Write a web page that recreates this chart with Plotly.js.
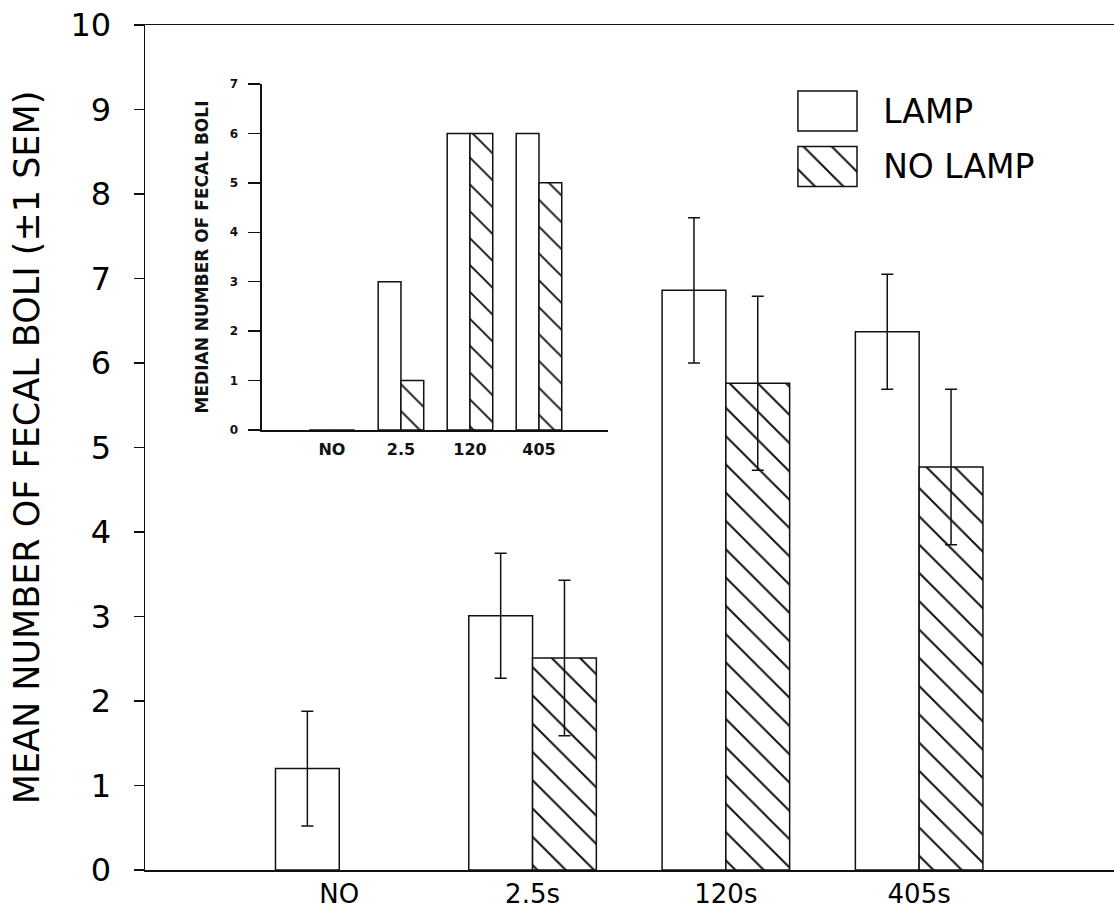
<!DOCTYPE html>
<html>
<head>
<meta charset="utf-8">
<script src="https://cdn.plot.ly/plotly-3.0.1.min.js"></script>
<style>html,body{margin:0;padding:0;background:#fff;}#chart{width:1114px;height:909px;}</style>
</head>
<body>
<div id="chart"></div>
<script>
// ---- data ----
const mainCategories = ['NO', '2.5s', '120s', '405s'];
const insetCategories = ['NO', '2.5', '120', '405'];
const seriesNames = ['LAMP', 'NO LAMP'];
const lampMean = [1.20, 3.01, 6.86, 6.37];
const lampSEM = [0.68, 0.74, 0.86, 0.68];
const noLampMean = [null, 2.51, 5.76, 4.77];
const noLampSEM = [null, 0.92, 1.03, 0.92];
const lampMedian = [0, 3, 6, 6];
const noLampMedian = [0, 1, 6, 5];
const legendSwatch = [1, 1];

const INK = '#111';
const FONT = 'DejaVu Sans, Liberation Sans, sans-serif';
const hatch = {shape: '\\', fgcolor: INK, bgcolor: '#fff', size: 20, solidity: 0.1};
const outline = {color: INK, width: 1.5};
const errStyle = {type: 'data', visible: true, color: INK, thickness: 1.5, width: 6};

const traces = [
  {type: 'bar', name: seriesNames[0], x: mainCategories, y: lampMean,
   marker: {color: '#fff', line: outline},
   error_y: Object.assign({array: lampSEM}, errStyle), hoverinfo: 'skip'},
  {type: 'bar', name: seriesNames[1], x: mainCategories, y: noLampMean,
   marker: {color: '#fff', line: outline, pattern: hatch},
   error_y: Object.assign({array: noLampSEM}, errStyle), hoverinfo: 'skip'},
  {type: 'bar', name: seriesNames[0], x: insetCategories, y: lampMedian, xaxis: 'x2', yaxis: 'y2',
   marker: {color: '#fff', line: outline}, hoverinfo: 'skip'},
  {type: 'bar', name: seriesNames[1], x: insetCategories, y: noLampMedian, xaxis: 'x2', yaxis: 'y2',
   marker: {color: '#fff', line: outline, pattern: Object.assign({}, hatch, {size: 19})}, hoverinfo: 'skip'},
  // legend swatches
  {type: 'bar', orientation: 'h', y: seriesNames, x: legendSwatch, xaxis: 'x3', yaxis: 'y3', width: 0.72,
   marker: {color: '#fff', line: outline,
     pattern: {shape: ['', '\\'], fgcolor: INK, bgcolor: '#fff', size: 20, solidity: 0.1}},
   hoverinfo: 'skip'}
];

const layout = {
  width: 1114, height: 909,
  margin: {l: 145, r: 0, t: 25, b: 39},
  paper_bgcolor: '#fff', plot_bgcolor: '#fff',
  showlegend: false,
  barmode: 'group', bargap: 0.34, bargroupgap: 0,
  font: {family: FONT, color: INK},
  xaxis: {
    domain: [0, 1], anchor: 'y', type: 'category', range: [-1.005, 4.008],
    showline: true, linecolor: INK, linewidth: 1.5, mirror: true,
    ticks: '', showgrid: false, zeroline: false,
    tickfont: {family: FONT, size: 26, color: '#000'}, ticklabelstandoff: 0
  },
  yaxis: {
    domain: [0, 1], anchor: 'x', range: [0, 10], dtick: 1, tick0: 0,
    showline: true, linecolor: INK, linewidth: 1.5,
    ticks: 'outside', ticklen: 10, tickwidth: 1.5, tickcolor: INK,
    showgrid: false, zeroline: false,
    tickfont: {family: FONT, size: 32, color: '#000'}, ticklabelstandoff: 16,
    title: {text: 'MEAN NUMBER OF FECAL BOLI (±1 SEM)', font: {family: FONT, size: 35, color: '#000'}, standoff: 20}
  },
  xaxis2: {
    domain: [0.1207, 0.4778], anchor: 'y2', type: 'category', range: [-1.014, 4.0],
    showline: true, linecolor: INK, linewidth: 1.5,
    ticks: '', showgrid: false, zeroline: false,
    tickfont: {family: FONT, size: 16, color: INK, weight: 'bold'}, ticklabelstandoff: 4
  },
  yaxis2: {
    domain: [0.5207, 0.9302], anchor: 'x2', range: [0, 7], dtick: 1, tick0: 0,
    showline: true, linecolor: INK, linewidth: 1.5,
    ticks: 'outside', ticklen: 12, tickwidth: 1.5, tickcolor: INK,
    showgrid: false, zeroline: false,
    tickfont: {family: FONT, size: 12, color: INK, weight: 'bold'}, ticklabelstandoff: 8,
    title: {text: 'MEDIAN NUMBER OF FECAL BOLI', font: {family: FONT, size: 17, color: INK, weight: 'bold'}, standoff: 16}
  },
  xaxis3: {domain: [0.6726, 0.7360], anchor: 'y3', range: [-0.02, 1.02], visible: false, fixedrange: true},
  yaxis3: {
    domain: [0.7997, 0.9311], anchor: 'x3', type: 'category', range: [1.5, -0.5], side: 'right',
    showline: false, ticks: '', showgrid: false, zeroline: false,
    tickfont: {family: FONT, size: 33, color: '#000'}, ticklabelstandoff: 24
  }
};

Plotly.newPlot('chart', traces, layout, {staticPlot: true, displayModeBar: false});
</script>
</body>
</html>
